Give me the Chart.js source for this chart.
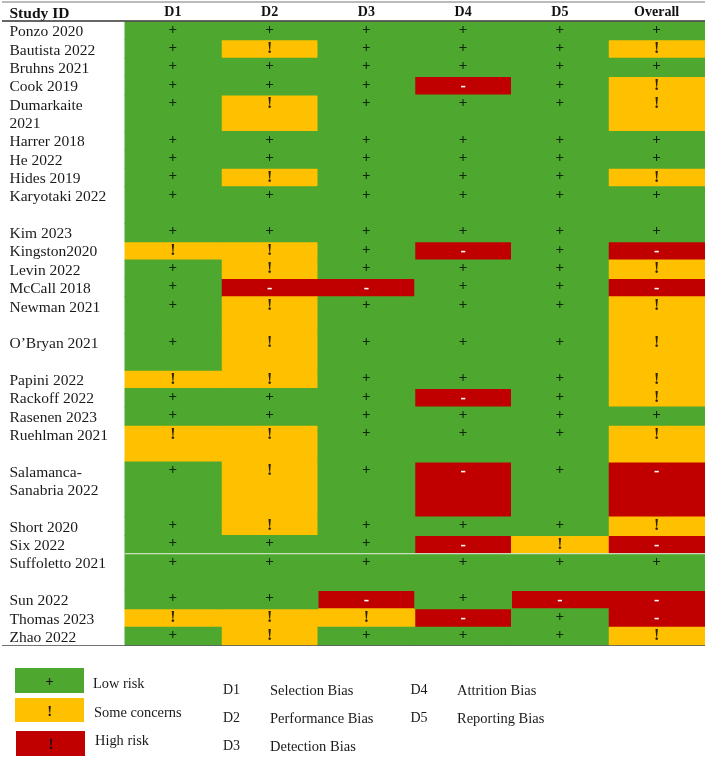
<!DOCTYPE html>
<html>
<head>
<meta charset="utf-8">
<title>Risk of bias</title>
<script src="https://cdn.jsdelivr.net/npm/chart.js@4"></script>
<style>
    html, body { margin: 0; padding: 0; background: #fff; }
    #wrap { position: relative; width: 709px; height: 758px; overflow: hidden; font-family: "Liberation Serif", serif; color: #1a1a1a; }
    canvas { position: absolute; left: 0; top: 0; }
    .box { position: absolute; width: 69px; height: 24.5px; line-height: 27.5px; text-align: center; font-size: 14px; font-weight: bold; color: #111; }
    .txt { position: absolute; white-space: nowrap; transform: translateY(-50%); }
</style>
</head>
<body>
<div id="wrap">
    <canvas id="robChart" width="709" height="758"></canvas>
</div>
<script>
// a line break in a study name means the row is taller in the table
var studies = ['Ponzo 2020', 'Bautista 2022', 'Bruhns 2021', 'Cook 2019', 'Dumarkaite\n2021', 'Harrer 2018', 'He 2022',
    'Hides 2019', 'Karyotaki 2022\n', 'Kim 2023', 'Kingston2020', 'Levin 2022', 'McCall 2018', 'Newman 2021\n',
    'O\u2019Bryan 2021\n', 'Papini 2022', 'Rackoff 2022', 'Rasenen 2023', 'Ruehlman 2021\n', 'Salamanca-\nSanabria 2022\n',
    'Short 2020', 'Six 2022', 'Suffoletto 2021\n', 'Sun 2022', 'Thomas 2023', 'Zhao 2022'];

var domains = ['D1', 'D2', 'D3', 'D4', 'D5', 'Overall'];

var d1 = ['+', '+', '+', '+', '+', '+', '+', '+', '+', '+', '!', '+', '+', '+', '+', '!', '+', '+', '!', '+', '+', '+', '+', '+', '!', '+'];
var d2 = ['+', '!', '+', '+', '!', '+', '+', '!', '+', '+', '!', '!', '-', '!', '!', '!', '+', '+', '!', '!', '!', '+', '+', '+', '!', '!'];
var d3 = ['+', '+', '+', '+', '+', '+', '+', '+', '+', '+', '+', '+', '-', '+', '+', '+', '+', '+', '+', '+', '+', '+', '+', '-', '!', '+'];
var d4 = ['+', '+', '+', '-', '+', '+', '+', '+', '+', '+', '-', '+', '+', '+', '+', '+', '-', '+', '+', '-', '+', '-', '+', '+', '-', '+'];
var d5 = ['+', '+', '+', '+', '+', '+', '+', '+', '+', '+', '+', '+', '+', '+', '+', '+', '+', '+', '+', '+', '+', '!', '+', '-', '+', '+'];
var overall = ['+', '!', '+', '!', '!', '+', '+', '!', '+', '+', '-', '!', '-', '!', '!', '!', '!', '+', '!', '-', '!', '-', '+', '-', '-', '!'];

var ratings = ['+', '!', '-'];
var ratingNames = ['Low risk', 'Some concerns', 'High risk'];
var ratingColors = ['#4ea72e', '#ffc000', '#c00000'];
var legendSymbols = ['+', '!', '!'];

var domainCodes = ['D1', 'D2', 'D3', 'D4', 'D5'];
var domainNames = ['Selection Bias', 'Performance Bias', 'Detection Bias', 'Attrition Bias', 'Reporting Bias'];

var columns = [d1, d2, d3, d4, d5, overall];

// split the study names into text lines, one y unit per line
var lineLabels = [];
var rowStart = [];
studies.forEach(function(name) {
    rowStart.push(lineLabels.length);
    name.split('\n').forEach(function(line) { lineLabels.push(line); });
});
var lineCount = lineLabels.length;

function rowEnd(r) {
    return r + 1 < rowStart.length ? rowStart[r + 1] : lineCount;
}

var datasets = ratings.map(function(rating, k) {
    var cells = [];
    columns.forEach(function(col, c) {
        col.forEach(function(value, r) {
            if (value === rating) {
                cells.push({ x: domains[c], y: [rowStart[r], rowEnd(r)], symbol: value });
            }
        });
    });
    return {
        label: ratingNames[k],
        data: cells,
        backgroundColor: ratingColors[k],
        borderWidth: 0,
        inflateAmount: 0.5,
        grouped: false,
        barPercentage: 1,
        categoryPercentage: 1
    };
});

// symbols in the cells, header text and table rules
var tablePlugin = {
    id: 'tablePlugin',
    afterDatasetsDraw: function(chart) {
        var ctx = chart.ctx;
        var xs = chart.scales.x;
        var ys = chart.scales.y;
        ctx.save();
        ctx.textAlign = 'center';
        ctx.textBaseline = 'middle';
        columns.forEach(function(col, c) {
            col.forEach(function(value, r) {
                var px = xs.getPixelForValue(c);
                var py = ys.getPixelForValue(rowStart[r] + 0.5);
                if (value === '-') {
                    ctx.font = 'bold 16px "Liberation Serif"';
                    ctx.fillStyle = '#ffffff';
                    py += 1;
                } else if (value === '!') {
                    ctx.font = 'bold 16px "Liberation Serif"';
                    ctx.fillStyle = '#2a2200';
                } else {
                    ctx.font = 'bold 15px "Liberation Serif"';
                    ctx.fillStyle = '#0c2606';
                    py -= 1;
                }
                ctx.fillText(value, px, py);
            });
        });

        ctx.font = 'bold 15.5px "Liberation Serif"';
        ctx.fillStyle = '#111';
        ctx.textAlign = 'left';
        ctx.fillText('Study ID', 9.5, 13.5);

        // white gap under Six 2022
        var gapY = ys.getPixelForValue(rowStart[22]);
        ctx.strokeStyle = '#e8f2e0';
        ctx.lineWidth = 1;
        ctx.beginPath();
        ctx.moveTo(xs.left, gapY);
        ctx.lineTo(xs.right, gapY);
        ctx.stroke();

        ctx.strokeStyle = '#777';
        ctx.lineWidth = 1.2;
        ctx.beginPath();
        ctx.moveTo(2, 2);
        ctx.lineTo(xs.right, 2);
        ctx.stroke();
        ctx.strokeStyle = '#333';
        ctx.lineWidth = 1.4;
        ctx.beginPath();
        ctx.moveTo(2, ys.top - 0.5);
        ctx.lineTo(xs.right, ys.top - 0.5);
        ctx.stroke();
        ctx.strokeStyle = 'rgba(70,70,70,0.75)';
        ctx.lineWidth = 1.2;
        ctx.beginPath();
        ctx.moveTo(2, ys.bottom);
        ctx.lineTo(xs.right, ys.bottom);
        ctx.stroke();
        ctx.restore();
    }
};

var ctx = document.getElementById('robChart').getContext('2d');
var robChart = new Chart(ctx, {
    type: 'bar',
    data: { labels: domains, datasets: datasets },
    plugins: [tablePlugin],
    options: {
        responsive: false,
        animation: false,
        layout: { padding: { left: 9.5, right: 4, top: 0, bottom: 112.5 } },
        plugins: { legend: { display: false }, tooltip: { enabled: false } },
        scales: {
            x: {
                type: 'category',
                position: 'top',
                offset: true,
                grid: { display: false, drawTicks: false },
                border: { display: false },
                ticks: {
                    color: '#111',
                    padding: 0.5,
                    maxRotation: 0,
                    font: { family: 'Liberation Serif', size: 14, weight: 'bold' }
                },
                afterFit: function(scale) { scale.height = 21.5; }
            },
            y: {
                type: 'linear',
                reverse: true,
                min: 0,
                max: lineCount,
                grid: { display: false },
                border: { display: false },
                afterBuildTicks: function(scale) {
                    scale.ticks = lineLabels.map(function(t, i) { return { value: i + 0.58 }; });
                },
                ticks: {
                    autoSkip: false,
                    crossAlign: 'far',
                    color: '#1a1a1a',
                    font: { family: 'Liberation Serif', size: 15.5 },
                    callback: function(value, index) { return lineLabels[index]; }
                },
                afterFit: function(scale) { scale.width = 115; }
            }
        }
    }
});

// legend under the table
var wrap = document.getElementById('wrap');

function addText(text, left, centerY, size) {
    var el = document.createElement('div');
    el.className = 'txt';
    el.textContent = text;
    el.style.left = left + 'px';
    el.style.top = centerY + 'px';
    el.style.fontSize = size + 'px';
    wrap.appendChild(el);
}

var boxLeft = [15, 15, 16];
var boxTop = [668, 697.5, 731];
var labelLeft = [93, 94, 95];
var labelY = [683, 712, 740];
ratingNames.forEach(function(name, i) {
    var box = document.createElement('div');
    box.className = 'box';
    box.textContent = legendSymbols[i];
    box.style.left = boxLeft[i] + 'px';
    box.style.top = boxTop[i] + 'px';
    box.style.background = ratingColors[i];
    wrap.appendChild(box);
    addText(name, labelLeft[i], labelY[i], 14.4);
});

var codeLeft = [223, 223, 223, 410.5, 410.5];
var nameLeft = [270, 270, 270, 457, 457];
var codeY = [690, 717.5, 746, 690, 717.5];
domainCodes.forEach(function(code, i) {
    addText(code, codeLeft[i], codeY[i], 14);
    addText(domainNames[i], nameLeft[i], codeY[i], 14.5);
});
</script>
</body>
</html>
